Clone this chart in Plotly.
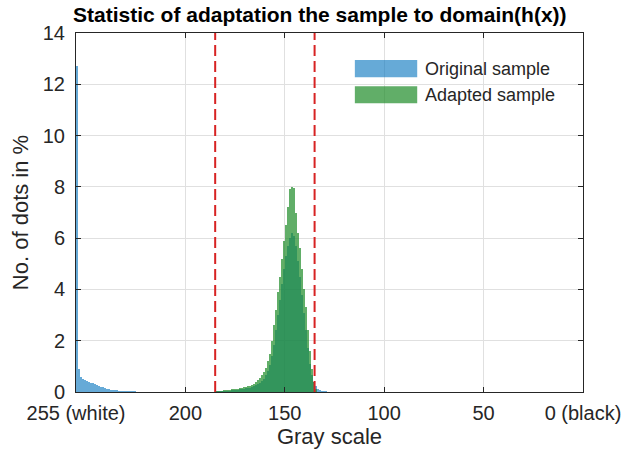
import plotly.graph_objects as go

# ---------------- data ----------------
# Original sample: white tail (gray 255 .. 226)
orig_tail_gray = list(range(255, 225, -1))
orig_tail_vals = [12.7, 0.9, 0.6, 0.5, 0.45, 0.42, 0.4, 0.37, 0.34, 0.31,
                  0.28, 0.25, 0.21, 0.18, 0.15, 0.13, 0.11, 0.09, 0.08, 0.07,
                  0.06, 0.05, 0.045, 0.04, 0.035, 0.03, 0.03, 0.025, 0.025, 0.02]

# Original sample: main peak (gray 185 .. 128)
orig_peak_gray = list(range(185, 127, -1))
orig_peak_vals = [0.02, 0.02, 0.03, 0.03, 0.04, 0.04, 0.05, 0.05, 0.06, 0.07,
                  0.08, 0.09, 0.10, 0.11, 0.12,
                  0.14, 0.15, 0.17, 0.19, 0.22, 0.26, 0.30, 0.36, 0.43, 0.52,
                  0.65, 0.82, 1.05, 1.4, 1.85, 2.4, 3.0, 3.6, 4.2, 4.8,
                  5.3, 5.7, 6.0, 6.2, 6.1, 5.7, 5.1, 4.5, 3.8, 3.1,
                  2.4, 1.7, 1.1, 0.65, 0.38, 0.22, 0.13, 0.08, 0.05, 0.03,
                  0.02, 0.01, 0.01]

# Adapted sample (gray 185 .. 135)
adapt_gray = list(range(185, 134, -1))
adapt_vals = [0.02, 0.03, 0.04, 0.05, 0.06, 0.07, 0.08, 0.09, 0.10, 0.11,
              0.12, 0.13, 0.14, 0.16, 0.18, 0.20, 0.22, 0.25, 0.28, 0.33,
              0.40, 0.47, 0.55, 0.65, 0.78, 0.95, 1.2, 1.5, 2.0, 2.6,
              3.2, 3.9, 4.5, 5.2, 5.9, 6.5, 7.2, 7.9, 8.0, 7.95,
              7.0, 6.2, 5.6, 4.8, 4.0, 3.3, 2.4, 1.6, 0.9, 0.4,
              0.1]

domain_bounds = [185, 135]

x_tickvals = [255, 200, 150, 100, 50, 0]
x_ticktext = ["255 (white)", "200", "150", "100", "50", "0 (black)"]
y_tickvals = [0, 2, 4, 6, 8, 10, 12, 14]

legend_labels = ["Original sample", "Adapted sample"]

# ---------------- styling ----------------
BLUE = "rgba(0,114,189,0.6)"
GREEN = "rgba(30,140,40,0.7)"
RED = "rgb(215,35,35)"
FONT = "Liberation Sans, Arial, Helvetica, sans-serif"
TXT = "#262626"

fig = go.Figure()
fig.add_trace(go.Bar(x=orig_tail_gray + orig_peak_gray,
                     y=orig_tail_vals + orig_peak_vals,
                     width=1, offset=-1,
                     marker=dict(color=BLUE, line=dict(width=0)),
                     name=legend_labels[0], showlegend=False))
fig.add_trace(go.Bar(x=adapt_gray, y=adapt_vals,
                     width=1, offset=-1,
                     marker=dict(color=GREEN, line=dict(width=0)),
                     name=legend_labels[1], showlegend=False))

for b in domain_bounds:
    fig.add_shape(type="line", xref="x", yref="paper", x0=b, x1=b, y0=0, y1=1,
                  line=dict(color=RED, width=2, dash="11px,5px"), layer="above")

# custom legend (wide swatches as in the reference)
sw = [(0.925, 0.877), (0.852, 0.804)]
for (yt, yb), col, lab in zip(sw, [BLUE, GREEN], legend_labels):
    fig.add_shape(type="rect", xref="paper", yref="paper",
                  x0=0.550, x1=0.673, y0=yb, y1=yt,
                  fillcolor=col, line=dict(width=0), layer="above")
    fig.add_annotation(xref="paper", yref="paper", x=0.684, y=(yt + yb) / 2,
                       text=lab, showarrow=False, xanchor="left", yanchor="middle",
                       font=dict(family=FONT, size=18, color=TXT))

fig.update_layout(
    width=621, height=459,
    margin=dict(l=76, r=38, t=33, b=67),
    paper_bgcolor="white", plot_bgcolor="white",
    barmode="overlay", bargap=0,
    showlegend=False,
    title=dict(text="<b>Statistic of adaptation the sample to domain(h(x))</b>",
               x=0.515, xanchor="center", y=0.984, yanchor="top",
               font=dict(family=FONT, size=21, color="black")),
    font=dict(family=FONT, size=20, color=TXT),
)

fig.update_xaxes(range=[255, 0], tickvals=x_tickvals, ticktext=x_ticktext,
                 showgrid=True, gridcolor="#e0e0e0", gridwidth=1,
                 showline=True, linecolor="#262626", linewidth=1, mirror="ticks",
                 ticks="inside", ticklen=5, tickcolor="#262626",
                 zeroline=False, ticklabeloverflow="allow", ticklabelstandoff=3,
                 automargin=False,
                 title=dict(text="Gray scale", font=dict(family=FONT, size=22, color=TXT),
                            standoff=4),
                 tickfont=dict(family=FONT, size=20, color=TXT))
fig.update_yaxes(range=[0, 14], tickvals=y_tickvals,
                 showgrid=True, gridcolor="#e0e0e0", gridwidth=1,
                 showline=True, linecolor="#262626", linewidth=1, mirror="ticks",
                 ticks="inside", ticklen=5, tickcolor="#262626",
                 zeroline=False, ticklabelstandoff=6, automargin=False,
                 title=dict(text="No. of dots in %", font=dict(family=FONT, size=22, color=TXT),
                            standoff=8),
                 tickfont=dict(family=FONT, size=20, color=TXT))

fig.write_html("out.html")
